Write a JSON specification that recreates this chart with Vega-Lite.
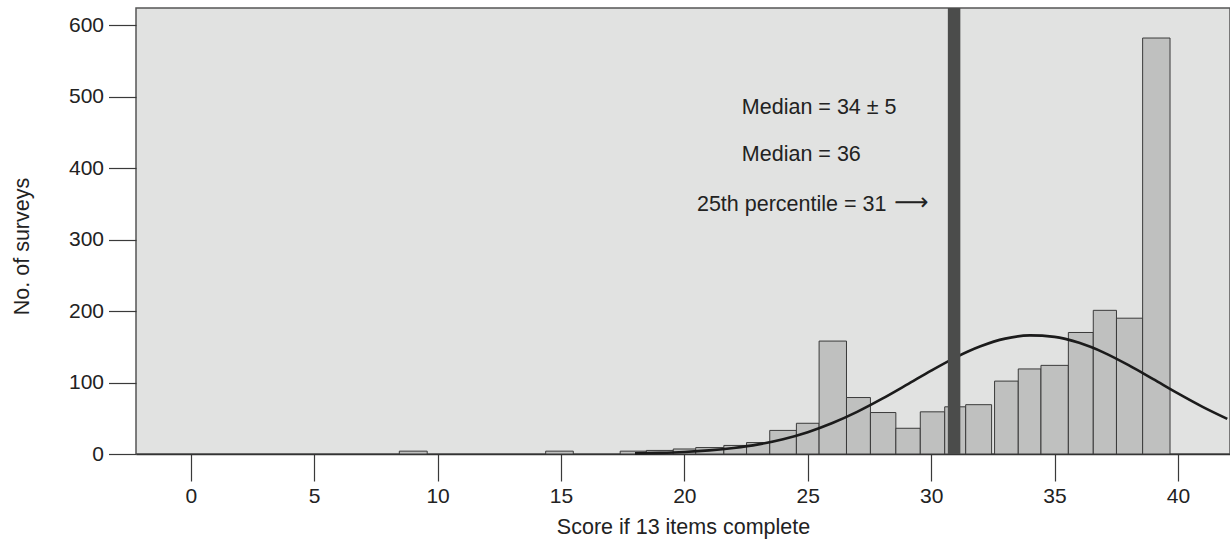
{
  "$schema": "https://vega.github.io/schema/vega-lite/v6.json",
  "autosize": "none",
  "width": 1094,
  "height": 446,
  "padding": {"left": 136, "top": 8, "right": 0, "bottom": 90},
  "background": "white",
  "config": {
    "font": "Liberation Sans",
    "view": {"fill": "#e1e2e1", "stroke": "#555555", "strokeWidth": 1.5},
    "axis": {"labelFont": "Liberation Sans", "titleFont": "Liberation Sans", "labelColor": "#222222", "titleColor": "#222222", "titleFontWeight": "normal", "grid": false}
  },
  "datasets": {
    "bars": [
      {"score": 9, "lo": 8.45, "hi": 9.58, "count": 4},
      {"score": 15, "lo": 14.38, "hi": 15.5, "count": 4},
      {"score": 18, "lo": 17.4, "hi": 18.46, "count": 4},
      {"score": 19, "lo": 18.46, "hi": 19.55, "count": 5},
      {"score": 20, "lo": 19.55, "hi": 20.46, "count": 7},
      {"score": 21, "lo": 20.46, "hi": 21.6, "count": 9},
      {"score": 22, "lo": 21.6, "hi": 22.52, "count": 12},
      {"score": 23, "lo": 22.52, "hi": 23.46, "count": 16},
      {"score": 24, "lo": 23.46, "hi": 24.54, "count": 33},
      {"score": 25, "lo": 24.54, "hi": 25.46, "count": 43},
      {"score": 26, "lo": 25.46, "hi": 26.57, "count": 158},
      {"score": 27, "lo": 26.57, "hi": 27.54, "count": 79},
      {"score": 28, "lo": 27.54, "hi": 28.57, "count": 58},
      {"score": 29, "lo": 28.57, "hi": 29.56, "count": 36},
      {"score": 30, "lo": 29.56, "hi": 30.55, "count": 59},
      {"score": 31, "lo": 30.55, "hi": 31.4, "count": 66},
      {"score": 32, "lo": 31.4, "hi": 32.45, "count": 69},
      {"score": 33, "lo": 32.57, "hi": 33.53, "count": 102},
      {"score": 34, "lo": 33.53, "hi": 34.45, "count": 119},
      {"score": 35, "lo": 34.45, "hi": 35.56, "count": 124},
      {"score": 36, "lo": 35.56, "hi": 36.57, "count": 170},
      {"score": 37, "lo": 36.57, "hi": 37.51, "count": 201},
      {"score": 38, "lo": 37.51, "hi": 38.57, "count": 190},
      {"score": 39, "lo": 38.57, "hi": 39.68, "count": 582}
    ],
    "curve": [
      {"score": 18, "fitted": 0.9},
      {"score": 19, "fitted": 1.6},
      {"score": 20, "fitted": 2.9},
      {"score": 21, "fitted": 5.1},
      {"score": 22, "fitted": 8.5},
      {"score": 23, "fitted": 13.5},
      {"score": 24, "fitted": 20.7},
      {"score": 25, "fitted": 30.5},
      {"score": 26, "fitted": 43.3},
      {"score": 27, "fitted": 58.9},
      {"score": 28, "fitted": 77},
      {"score": 29, "fitted": 96.6},
      {"score": 30, "fitted": 116.7},
      {"score": 31, "fitted": 135.3},
      {"score": 32, "fitted": 150.7},
      {"score": 33, "fitted": 161.4},
      {"score": 34, "fitted": 165.9},
      {"score": 35, "fitted": 163.9},
      {"score": 36, "fitted": 155.5},
      {"score": 37, "fitted": 141.9},
      {"score": 38, "fitted": 124.3},
      {"score": 39, "fitted": 104.7},
      {"score": 40, "fitted": 84.7},
      {"score": 41, "fitted": 65.9},
      {"score": 42, "fitted": 49.1}
    ],
    "one": [{}]
  },
  "layer": [
    {
      "data": {"name": "bars"},
      "mark": {"type": "rect", "fill": "#bfc0bf", "stroke": "#3a3a3a", "strokeWidth": 1},
      "encoding": {
        "x": {"field": "lo", "type": "quantitative", "scale": {"domain": [-2.22, 42.11], "nice": false, "zero": false},
          "axis": {"values": [0, 5, 10, 15, 20, 25, 30, 35, 40], "title": "Score if 13 items complete", "tickSize": 27, "tickColor": "#3a3a3a", "tickWidth": 1.2, "domainColor": "#333333", "domainWidth": 1.5, "labelFontSize": 21, "labelPadding": 4, "titleFontSize": 21.5, "titlePadding": 10}},
        "x2": {"field": "hi"},
        "y": {"field": "count", "type": "quantitative", "scale": {"domain": [0, 624], "nice": false},
          "axis": {"values": [0, 100, 200, 300, 400, 500, 600], "title": "No. of surveys", "tickSize": 27.5, "tickColor": "#3a3a3a", "tickWidth": 1.2, "domain": false, "labelFontSize": 21, "labelPadding": 5, "titleFontSize": 21.5, "titleX": -114, "titleY": 238, "titleAngle": -90, "titleBaseline": "middle", "titleAlign": "center"}},
        "y2": {"datum": 0}
      }
    },
    {
      "data": {"name": "curve"},
      "mark": {"type": "line", "color": "#1b1b1b", "strokeWidth": 2.6, "interpolate": "monotone"},
      "encoding": {
        "x": {"field": "score", "type": "quantitative"},
        "y": {"field": "fitted", "type": "quantitative"}
      }
    },
    {
      "data": {"name": "one"},
      "mark": {"type": "rule", "color": "#4b4c4b", "strokeWidth": 12.5},
      "encoding": {"x": {"datum": 30.93}}
    },
    {
      "data": {"name": "one"},
      "mark": {"type": "text", "text": "Median = 34 ± 5", "align": "left", "baseline": "middle", "fontSize": 21.5, "color": "#222222"},
      "encoding": {"x": {"datum": 22.33}, "y": {"datum": 484}}
    },
    {
      "data": {"name": "one"},
      "mark": {"type": "text", "text": "Median = 36", "align": "left", "baseline": "middle", "fontSize": 21.5, "color": "#222222"},
      "encoding": {"x": {"datum": 22.33}, "y": {"datum": 418}}
    },
    {
      "data": {"name": "one"},
      "mark": {"type": "text", "text": "25th percentile = 31", "align": "left", "baseline": "middle", "fontSize": 21.5, "color": "#222222"},
      "encoding": {"x": {"datum": 20.51}, "y": {"datum": 349}}
    },
    {
      "data": {"name": "one"},
      "mark": {"type": "text", "text": "⟶", "align": "left", "baseline": "middle", "fontSize": 24, "font": "DejaVu Sans", "color": "#222222"},
      "encoding": {"x": {"datum": 28.5}, "y": {"datum": 351}}
    }
  ]
}
